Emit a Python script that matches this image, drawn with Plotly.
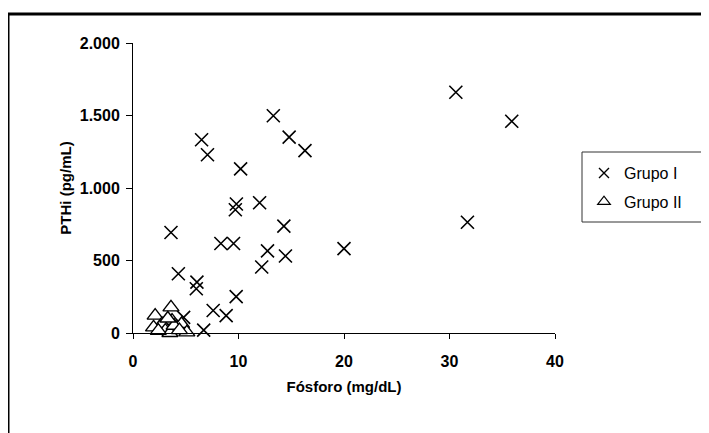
import plotly.graph_objects as go

# Grupo I (x markers)
g1_x = [30.6, 35.9, 13.3, 14.8, 16.3, 6.5, 7.06, 10.2, 9.8, 9.7, 12.0, 3.6, 8.33, 9.53,
        14.3, 12.75, 14.45, 12.2, 20.0, 31.7, 4.3, 6.06, 6.0, 9.78, 7.6, 8.83, 6.7, 4.8]
g1_y = [1660, 1460, 1498, 1351, 1258, 1333, 1229, 1132, 890, 850, 898, 693, 617, 617,
        737, 566, 531, 455, 582, 764, 409, 351, 305, 251, 155, 120, 20, 108]

# Grupo II (triangles)
g2_x = [2.1, 3.6, 3.7, 2.75, 1.95, 3.06, 4.2, 4.6, 5.1, 3.5, 2.4, 3.9, 3.3, 4.4]
g2_y = [120, 177, 85, 62, 39, 16, 39, 62, 4, 0, 16, 50, 100, 20]

series_names = ["Grupo I", "Grupo II"]
x_ticks = [0, 10, 20, 30, 40]
y_ticks = [0, 500, 1000, 1500, 2000]
y_tick_labels = ["0", "500", "1.000", "1.500", "2.000"]

FONT = "Liberation Sans, Arial, sans-serif"

sym1 = dict(symbol="x-thin", color="black")
sym2 = dict(symbol="triangle-up", color="white")

fig = go.Figure()
fig.add_trace(go.Scatter(
    x=g1_x, y=g1_y, mode="markers", name=series_names[0], showlegend=False,
    marker=dict(size=13, line=dict(color="black", width=1.6), **sym1),
    cliponaxis=False,
))
fig.add_trace(go.Scatter(
    x=g2_x, y=g2_y, mode="markers", name=series_names[1], showlegend=False,
    marker=dict(size=14, line=dict(color="black", width=1.4), **sym2),
    cliponaxis=False,
))
# legend-only entries (smaller symbols, as in the reference legend)
fig.add_trace(go.Scatter(
    x=[None], y=[None], mode="markers", name=series_names[0], legendgroup="g1",
    marker=dict(size=10, line=dict(color="black", width=1.4), **sym1),
))
fig.add_trace(go.Scatter(
    x=[None], y=[None], mode="markers", name=series_names[1], legendgroup="g2",
    marker=dict(size=11, line=dict(color="black", width=1.2), **sym2),
))

# page body has an 8px offset; positions below are reference pixels
OFF = 8
W, H = 709, 433
L, T = 133 - OFF, 35
R = W - (555 - OFF)
B = 108
pw, ph = W - L - R, H - T - B

def px_x(p):
    return (p - OFF - L) / pw

def px_y(p):
    return (H - B - (p - OFF)) / ph

fig.update_layout(
    width=W, height=H,
    margin=dict(l=L, r=R, t=T, b=B),
    paper_bgcolor="white", plot_bgcolor="white",
    font=dict(family=FONT, color="black"),
    showlegend=True,
    legend=dict(
        x=px_x(584), y=px_y(156), xanchor="left", yanchor="top",
        bgcolor="rgba(0,0,0,0)", borderwidth=0,
        font=dict(size=16, family=FONT),
        tracegroupgap=5,
    ),
    xaxis=dict(
        range=[0, 40], tickvals=x_ticks, ticktext=[str(v) for v in x_ticks],
        showgrid=False, zeroline=False, showline=True, linecolor="black", linewidth=1,
        ticks="outside", ticklen=5, tickcolor="black", ticklabelstandoff=9,
        tickfont=dict(size=16, family=FONT, weight="bold"),
        title=dict(text="<b>Fósforo (mg/dL)</b>", font=dict(size=15, family=FONT), standoff=12),
    ),
    yaxis=dict(
        range=[0, 2000], tickvals=y_ticks, ticktext=y_tick_labels,
        showgrid=False, zeroline=False, showline=True, linecolor="black", linewidth=1,
        ticks="outside", ticklen=6, tickcolor="black", ticklabelstandoff=3,
        tickfont=dict(size=16, family=FONT, weight="bold"),
        title=dict(text="<b>PTHi (pg/mL)</b>", font=dict(size=15, family=FONT), standoff=4),
    ),
    shapes=[
        dict(type="rect", xref="paper", yref="paper",
             x0=px_x(8), x1=px_x(740), y0=px_y(470), y1=px_y(14),
             line=dict(color="black", width=3), fillcolor="rgba(0,0,0,0)", layer="above"),
        dict(type="rect", xref="paper", yref="paper",
             x0=px_x(582), x1=px_x(708), y0=px_y(222), y1=px_y(152),
             line=dict(color="#333333", width=1), fillcolor="rgba(0,0,0,0)", layer="above"),
    ],
)

fig.write_html("out.html")
